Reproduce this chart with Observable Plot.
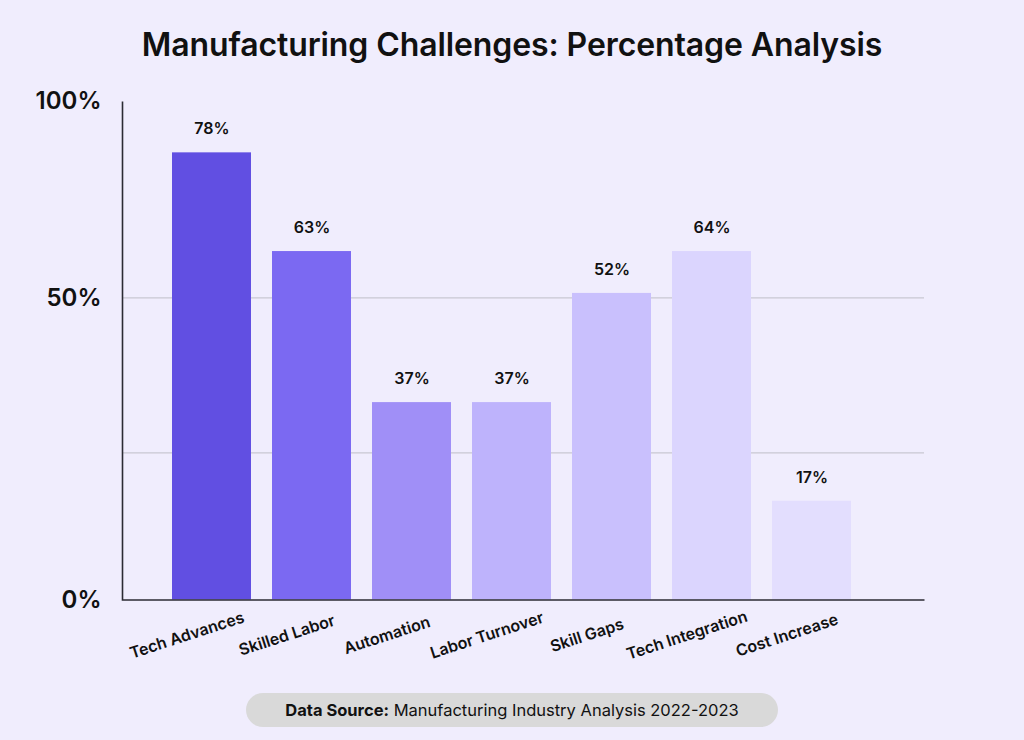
<!DOCTYPE html>
<html>
<head>
<meta charset="utf-8">
<script src="https://cdn.jsdelivr.net/npm/d3@7"></script>
<script src="https://cdn.jsdelivr.net/npm/@observablehq/plot@0.6"></script>
<style>
  html, body { margin: 0; padding: 0; background: #F0EDFD; }
  body { width: 1024px; height: 740px; overflow: hidden; font-family: Inter, "Noto Sans", sans-serif; color: #111; }
  #title { height: 80px; box-sizing: border-box; padding-top: 26px; text-align: center; font-size: 32px; font-weight: 600; line-height: 38px; letter-spacing: -0.1px; }
  #chart { height: 600px; }
  #chart svg { display: block; overflow: visible; }
  #caption { display: flex; justify-content: center; margin-top: 13px; }
  #caption .pill { background: #D9D9D9; border-radius: 17px; height: 34px; line-height: 34px; width: 532px; text-align: center; font-size: 16.5px; color: #111; }
  #caption b { font-weight: 700; }
</style>
</head>
<body>
<div id="title">Manufacturing Challenges: Percentage Analysis</div>
<div id="chart"></div>
<div id="caption"><div class="pill"><b>Data Source:</b> Manufacturing Industry Analysis 2022-2023</div></div>
<script>
// Categories (x axis)
const categories = ["Tech Advances", "Skilled Labor", "Automation", "Labor Turnover", "Skill Gaps", "Tech Integration", "Cost Increase"];
// Bar lengths as drawn, read against the axis running from "0%" (bottom) to "100%" (top)
const barValues = [89.7, 69.9, 39.6, 39.6, 61.5, 69.9, 19.8];
// Value labels printed above the bars
const valueLabels = ["78%", "63%", "37%", "37%", "52%", "64%", "17%"];
// Bar fills
const barColors = ["#614FE2", "#7B69F2", "#A08FF7", "#BEB3FC", "#C9C0FD", "#DBD5FE", "#E3DEFE"];
// Y-axis tick labels and where they sit on that axis
const yTickValues = [0, 60.6, 100];
const yTickLabels = ["0%", "50%", "100%"];
// Horizontal gridlines
const gridValues = [29.5, 60.6];

const data = categories.map((c, i) => ({category: c, value: barValues[i], label: valueLabels[i], color: barColors[i]}));

const W = 1024, H = 600, mL = 122, mR = 100, mT = 21, mB = 80.5;
const frameW = W - mL - mR, frameH = H - mT - mB;

const chart = Plot.plot({
  width: W,
  height: H,
  marginLeft: mL,
  marginRight: mR,
  marginTop: mT,
  marginBottom: mB,
  style: {background: "transparent", fontFamily: "Inter, 'Noto Sans', sans-serif", color: "#111", overflow: "visible"},
  x: {domain: categories, range: [mL, mL + 779.7], paddingInner: 0.212, paddingOuter: 0.496, axis: null},
  y: {domain: [0, 100], axis: null},
  marks: [
    Plot.ruleY(gridValues, {stroke: "#C9C7D2", strokeWidth: 1.2}),
    Plot.barY(data, {x: "category", y: "value", fill: "color"}),
    // left + bottom axis lines (bottom and left sides of the frame)
    Plot.frame({stroke: "#2B2B33", strokeWidth: 1.6, fill: "none",
      strokeDasharray: `0 ${frameW + frameH} ${frameW + frameH}`}),
    Plot.text(data, {x: "category", y: "value", text: "label", dy: -23.5, lineAnchor: "middle",
      fontSize: 16, fontWeight: 600, fill: "#111"}),
    Plot.text(categories, {x: d => d, frameAnchor: "bottom", text: d => d, dx: -25, dy: 35.5,
      rotate: -18, textAnchor: "middle", lineAnchor: "middle", fontSize: 16, fontWeight: 600, fill: "#111"}),
    Plot.text(yTickValues, {y: d => d, text: (d, i) => yTickLabels[i], frameAnchor: "left", textAnchor: "end",
      lineAnchor: "middle", dx: -21, fontSize: 24, fontWeight: 600, fill: "#111"})
  ]
});
document.getElementById("chart").appendChild(chart);
</script>
</body>
</html>
